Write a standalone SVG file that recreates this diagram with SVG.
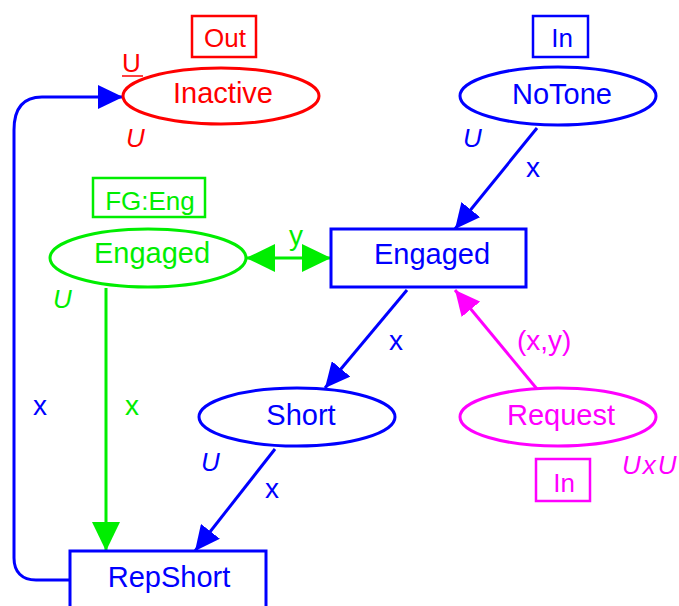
<svg xmlns="http://www.w3.org/2000/svg" width="679" height="606" viewBox="0 0 679 606">
<defs>
<style>
text{font-family:"Liberation Sans",Arial,sans-serif}
.n{font-size:29px;text-anchor:middle}
.s{font-size:26px;text-anchor:middle}
.l{font-size:28px}
.i{font-size:26px;font-style:italic}
.b{fill:#0000ff}.r{fill:#ff0000}.g{fill:#00ee00}.m{fill:#ff00ff}
.shape{fill:#fff;stroke-width:3}
.box{fill:none;stroke-width:2.5}
.arc{fill:none;stroke-width:3}
</style>
<marker id="ab" markerUnits="userSpaceOnUse" markerWidth="26" markerHeight="24" refX="25" refY="12" orient="auto"><path d="M0,0 L25,12 L0,24 z" fill="#0000ff"/></marker>
<marker id="ag" markerUnits="userSpaceOnUse" markerWidth="30" markerHeight="28" refX="29" refY="14" orient="auto-start-reverse"><path d="M0,0 L29,14 L0,28 z" fill="#00ee00"/></marker>
<marker id="am" markerUnits="userSpaceOnUse" markerWidth="26" markerHeight="24" refX="25" refY="12" orient="auto"><path d="M0,0 L25,12 L0,24 z" fill="#ff00ff"/></marker>
</defs>
<rect width="679" height="606" fill="#fff"/>
<g id="connectors">
<path class="arc" stroke="#0000ff" d="M70,580 L36,580 C22,580 14,572 14,558 L14,130 C14,110 22,97 42,97 L123,97" marker-end="url(#ab)"/>
<path class="arc" stroke="#0000ff" d="M537,128 L455,229" marker-end="url(#ab)"/>
<path class="arc" stroke="#00ee00" d="M246,258 L331,258" marker-start="url(#ag)" marker-end="url(#ag)"/>
<path class="arc" stroke="#00ee00" d="M106,288 L106,551" marker-end="url(#ag)"/>
<path class="arc" stroke="#0000ff" d="M407,290 L325,388" marker-end="url(#ab)"/>
<path class="arc" stroke="#0000ff" d="M275,449 L195,551" marker-end="url(#ab)"/>
<path class="arc" stroke="#ff00ff" d="M537,389 L455,290" marker-end="url(#am)"/>
<text class="l b" x="526" y="177">x</text>
<text class="l g" x="289" y="245">y</text>
<text class="l b" x="33" y="415">x</text>
<text class="l g" x="125" y="415">x</text>
<text class="l b" x="389" y="350">x</text>
<text class="l b" x="265" y="498">x</text>
<text class="l m" x="517" y="350">(x,y)</text>
</g>
<g id="Inactive">
<ellipse class="shape" stroke="#ff0000" cx="221" cy="96" rx="98" ry="28"/>
<text class="n r" x="223" y="103">Inactive</text>
<rect class="box" stroke="#ff0000" x="192" y="16" width="64" height="41"/>
<text class="s r" x="225" y="47">Out</text>
<text class="r" x="122" y="72" font-size="26">U</text>
<line x1="122" y1="76" x2="143" y2="76" stroke="#ff0000" stroke-width="1.5"/>
<text class="i r" x="126" y="147">U</text>
</g>
<g id="NoTone">
<ellipse class="shape" stroke="#0000ff" cx="558" cy="96" rx="98" ry="29"/>
<text class="n b" x="562" y="104">NoTone</text>
<rect class="box" stroke="#0000ff" x="533" y="16" width="55" height="41"/>
<text class="s b" x="562" y="47">In</text>
<text class="i b" x="463" y="147">U</text>
</g>
<g id="EngagedT">
<rect class="shape" stroke="#0000ff" stroke-width="2.5" x="331" y="229" width="195" height="58"/>
<text class="n b" x="432" y="264">Engaged</text>
</g>
<g id="EngagedP">
<ellipse class="shape" stroke="#00ee00" cx="148" cy="258" rx="98" ry="29"/>
<text class="n g" x="152" y="263">Engaged</text>
<rect class="box" stroke="#00ee00" x="93" y="178" width="112" height="39"/>
<text class="s g" x="150" y="210">FG:Eng</text>
<text class="i g" x="53" y="308">U</text>
</g>
<g id="Short">
<ellipse class="shape" stroke="#0000ff" cx="297" cy="417" rx="98" ry="29"/>
<text class="n b" x="301" y="425">Short</text>
<text class="i b" x="201" y="471">U</text>
</g>
<g id="Request">
<ellipse class="shape" stroke="#ff00ff" cx="558" cy="417" rx="98" ry="29"/>
<text class="n m" x="561" y="425">Request</text>
<rect class="box" stroke="#ff00ff" x="536" y="459" width="54" height="42"/>
<text class="s m" x="564" y="492">In</text>
<text class="i m" x="622" y="474" letter-spacing="2">UxU</text>
</g>
<g id="RepShort">
<rect class="shape" stroke="#0000ff" stroke-width="2.5" x="70" y="551" width="196" height="62"/>
<text class="n b" x="169" y="587">RepShort</text>
</g>
</svg>
